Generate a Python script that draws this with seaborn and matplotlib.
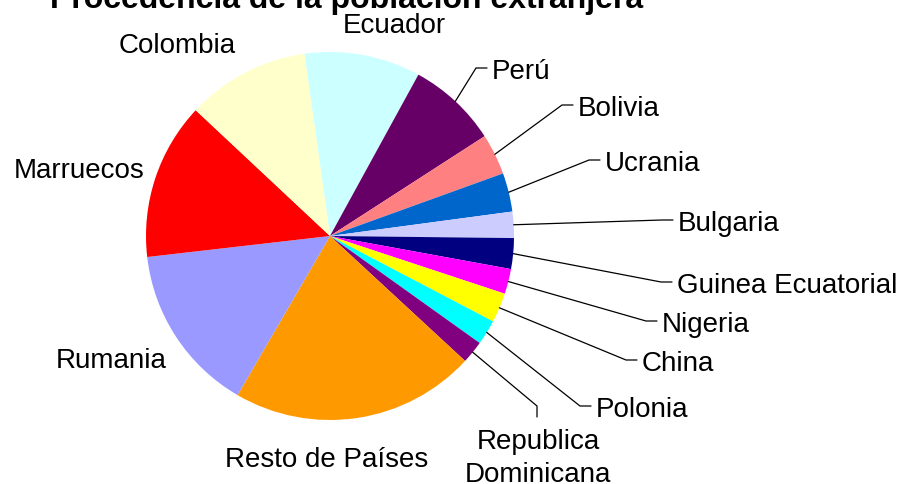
import numpy as np
import matplotlib
matplotlib.use("Agg")
import matplotlib.pyplot as plt
import seaborn as sns

# porcentaje de la poblacion extranjera por pais de procedencia
paises = ["Ecuador", "Perú", "Bolivia", "Ucrania", "Bulgaria", "Guinea Ecuatorial",
          "Nigeria", "China", "Polonia", "Republica\nDominicana", "Resto de Países",
          "Rumania", "Marruecos", "Colombia"]
porcentajes = [10.2, 7.9, 3.6, 3.4, 2.3, 2.7, 2.2, 2.6, 2.2, 2.0, 21.5, 14.8, 13.8, 10.8]
colores = ["#CCFFFF", "#660066", "#FF8080", "#0066CC", "#CCCCFF", "#000080",
           "#FF00FF", "#FFFF00", "#00FFFF", "#800080", "#FF9900",
           "#9999FF", "#FF0000", "#FFFFCC"]

titulo = "Procedencia de la población extranjera"

sns.set_theme(style="white")
plt.rcParams["font.family"] = ["Liberation Sans", "DejaVu Sans"]

W, H = 900, 485
fig = plt.figure(figsize=(W / 100, H / 100), dpi=100)
ax = fig.add_axes([0, 0, 1, 1])

centro = (330, H - 237)
radio = 184

wedges, _ = ax.pie(porcentajes, colors=colores, startangle=98, counterclock=False,
                   center=centro, radius=radio, wedgeprops=dict(linewidth=0))
ax.set_xlim(0, W)
ax.set_ylim(0, H)
ax.set_aspect("equal")
ax.axis("off")

FS = 20

# etiquetas sin linea guia: (x centro, linea base en px desde arriba)
sin_guia = {
    "Ecuador": (394, 33),
    "Colombia": (177, 53),
    "Marruecos": (79, 178),
    "Rumania": (111, 368),
    "Resto de Países": (327, 467),
}
# etiquetas con linea guia: (x izquierda, linea base)
con_guia = {
    "Perú": (492, 79),
    "Bolivia": (578, 116),
    "Ucrania": (605, 171),
    "Bulgaria": (678, 231),
    "Guinea Ecuatorial": (677, 293),
    "Nigeria": (662, 332),
    "China": (642, 371),
    "Polonia": (596, 417),
}


def borde(w):
    ang = np.deg2rad((w.theta1 + w.theta2) / 2)
    return centro[0] + radio * np.cos(ang), centro[1] + radio * np.sin(ang)


for nombre, w in zip(paises, wedges):
    if nombre in sin_guia:
        x, yb = sin_guia[nombre]
        ax.text(x, H - yb, nombre, fontsize=FS, ha="center", va="baseline", color="black")
    elif nombre in con_guia:
        x, yb = con_guia[nombre]
        ym = H - (yb - 10)
        x0, y0 = borde(w)
        ax.plot([x0, x - 16, x - 5], [y0, ym, ym], color="black", lw=0.9,
                solid_joinstyle="miter")
        ax.text(x, H - yb, nombre, fontsize=FS, ha="left", va="baseline", color="black")
    else:
        # Republica Dominicana, etiqueta debajo
        x0, y0 = borde(w)
        ax.plot([x0, 537, 537], [y0, H - 407, H - 418], color="black", lw=0.9)
        ax.text(538, H - 429, nombre, fontsize=FS, ha="center", va="top",
                linespacing=1.33, color="black")

fig.text(347 / W, 1 - 8 / H, titulo, fontsize=23, fontweight="bold",
         ha="center", va="baseline", color="black")

fig.savefig("out.png", dpi=100, facecolor="white")
